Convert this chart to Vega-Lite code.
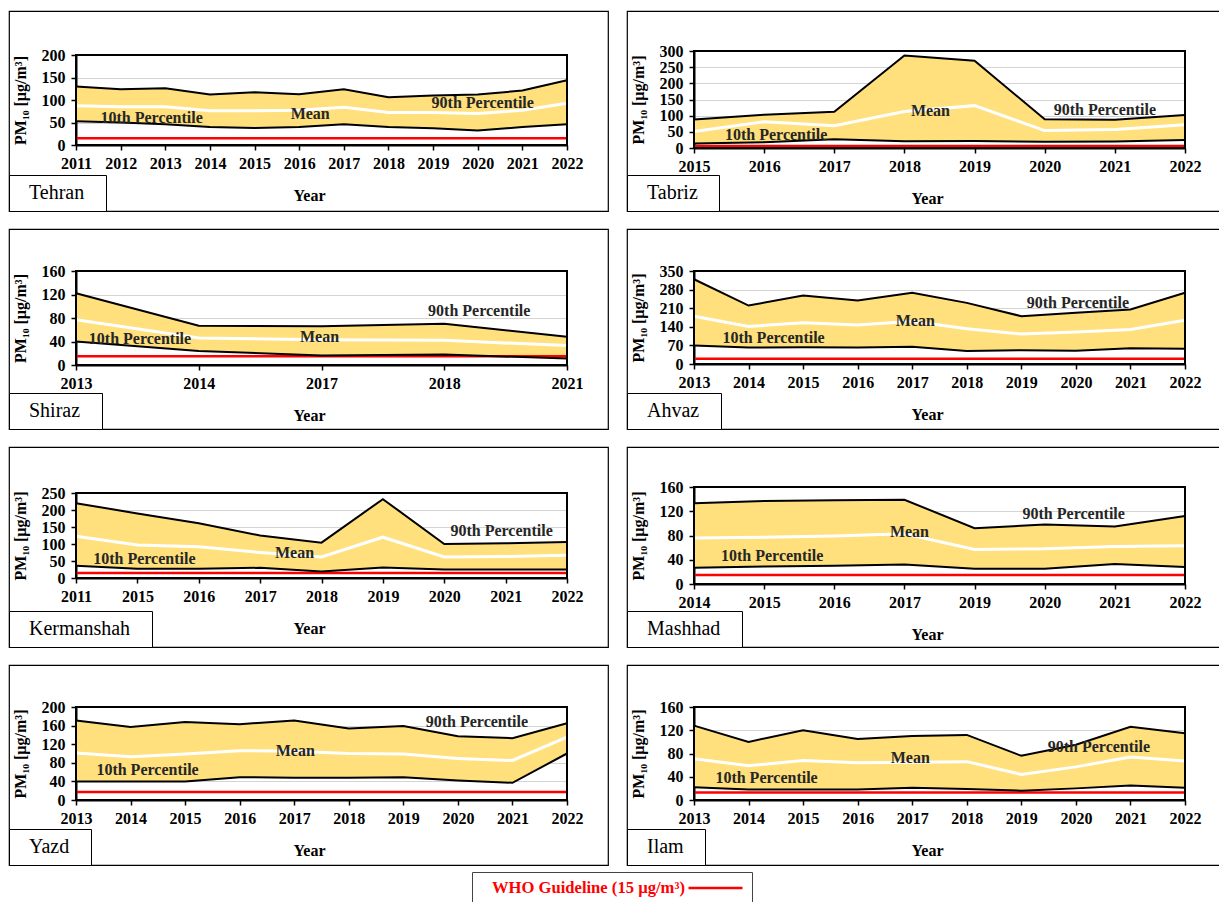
{
  "$schema": "https://vega.github.io/schema/vega-lite/v6.json",
  "padding": {"left": 7, "top": 10, "right": 0, "bottom": 0},
  "background": "#ffffff",
  "datasets": {
    "pm": [
      {"city":"Tehran","year":"2011","p10":53,"mean":87,"p90":130,"who":15},
      {"city":"Tehran","year":"2012","p10":50,"mean":85,"p90":124,"who":15},
      {"city":"Tehran","year":"2013","p10":46,"mean":85,"p90":126,"who":15},
      {"city":"Tehran","year":"2014","p10":40,"mean":76,"p90":112,"who":15},
      {"city":"Tehran","year":"2015","p10":38,"mean":76,"p90":117,"who":15},
      {"city":"Tehran","year":"2016","p10":40,"mean":77,"p90":113,"who":15},
      {"city":"Tehran","year":"2017","p10":46,"mean":84,"p90":124,"who":15},
      {"city":"Tehran","year":"2018","p10":40,"mean":72,"p90":106,"who":15},
      {"city":"Tehran","year":"2019","p10":37,"mean":72,"p90":110,"who":15},
      {"city":"Tehran","year":"2020","p10":32,"mean":70,"p90":112,"who":15},
      {"city":"Tehran","year":"2021","p10":40,"mean":77,"p90":121,"who":15},
      {"city":"Tehran","year":"2022","p10":46,"mean":93,"p90":144,"who":15},
      {"city":"Tabriz","year":"2015","p10":14,"mean":51,"p90":88,"who":6},
      {"city":"Tabriz","year":"2016","p10":18,"mean":81,"p90":103,"who":6},
      {"city":"Tabriz","year":"2017","p10":27,"mean":69,"p90":112,"who":6},
      {"city":"Tabriz","year":"2018","p10":21,"mean":113,"p90":286,"who":6},
      {"city":"Tabriz","year":"2019","p10":22,"mean":131,"p90":270,"who":6},
      {"city":"Tabriz","year":"2020","p10":19,"mean":54,"p90":89,"who":6},
      {"city":"Tabriz","year":"2021","p10":20,"mean":57,"p90":87,"who":6},
      {"city":"Tabriz","year":"2022","p10":25,"mean":72,"p90":102,"who":6},
      {"city":"Shiraz","year":"2013","p10":40,"mean":77,"p90":122,"who":15},
      {"city":"Shiraz","year":"2014","p10":24,"mean":46,"p90":67,"who":15},
      {"city":"Shiraz","year":"2017","p10":16,"mean":43,"p90":66,"who":15},
      {"city":"Shiraz","year":"2018","p10":18,"mean":42,"p90":70,"who":15},
      {"city":"Shiraz","year":"2021","p10":11,"mean":33,"p90":48,"who":15},
      {"city":"Ahvaz","year":"2013","p10":70,"mean":180,"p90":319,"who":20},
      {"city":"Ahvaz","year":"2014","p10":62,"mean":141,"p90":220,"who":20},
      {"city":"Ahvaz","year":"2015","p10":63,"mean":155,"p90":258,"who":20},
      {"city":"Ahvaz","year":"2016","p10":62,"mean":147,"p90":239,"who":20},
      {"city":"Ahvaz","year":"2017","p10":65,"mean":161,"p90":268,"who":20},
      {"city":"Ahvaz","year":"2018","p10":49,"mean":133,"p90":230,"who":20},
      {"city":"Ahvaz","year":"2019","p10":52,"mean":113,"p90":180,"who":20},
      {"city":"Ahvaz","year":"2020","p10":50,"mean":120,"p90":193,"who":20},
      {"city":"Ahvaz","year":"2021","p10":59,"mean":130,"p90":205,"who":20},
      {"city":"Ahvaz","year":"2022","p10":57,"mean":165,"p90":268,"who":20},
      {"city":"Kermanshah","year":"2011","p10":36,"mean":123,"p90":220,"who":15},
      {"city":"Kermanshah","year":"2015","p10":27,"mean":97,"p90":190,"who":15},
      {"city":"Kermanshah","year":"2016","p10":27,"mean":92,"p90":161,"who":15},
      {"city":"Kermanshah","year":"2017","p10":30,"mean":75,"p90":125,"who":15},
      {"city":"Kermanshah","year":"2018","p10":19,"mean":62,"p90":104,"who":15},
      {"city":"Kermanshah","year":"2019","p10":31,"mean":120,"p90":232,"who":15},
      {"city":"Kermanshah","year":"2020","p10":25,"mean":62,"p90":100,"who":15},
      {"city":"Kermanshah","year":"2021","p10":25,"mean":63,"p90":102,"who":15},
      {"city":"Kermanshah","year":"2022","p10":25,"mean":67,"p90":106,"who":15},
      {"city":"Mashhad","year":"2014","p10":27,"mean":76,"p90":133,"who":15},
      {"city":"Mashhad","year":"2015","p10":29,"mean":77,"p90":137,"who":15},
      {"city":"Mashhad","year":"2016","p10":30,"mean":79,"p90":138,"who":15},
      {"city":"Mashhad","year":"2017","p10":32,"mean":83,"p90":139,"who":15},
      {"city":"Mashhad","year":"2019","p10":25,"mean":57,"p90":92,"who":15},
      {"city":"Mashhad","year":"2020","p10":25,"mean":58,"p90":98,"who":15},
      {"city":"Mashhad","year":"2021","p10":33,"mean":62,"p90":95,"who":15},
      {"city":"Mashhad","year":"2022","p10":28,"mean":63,"p90":112,"who":15},
      {"city":"Yazd","year":"2013","p10":40,"mean":101,"p90":171,"who":17},
      {"city":"Yazd","year":"2014","p10":40,"mean":93,"p90":157,"who":17},
      {"city":"Yazd","year":"2015","p10":40,"mean":99,"p90":168,"who":17},
      {"city":"Yazd","year":"2016","p10":49,"mean":106,"p90":163,"who":17},
      {"city":"Yazd","year":"2017","p10":48,"mean":105,"p90":171,"who":17},
      {"city":"Yazd","year":"2018","p10":48,"mean":100,"p90":154,"who":17},
      {"city":"Yazd","year":"2019","p10":49,"mean":99,"p90":159,"who":17},
      {"city":"Yazd","year":"2020","p10":42,"mean":89,"p90":137,"who":17},
      {"city":"Yazd","year":"2021","p10":37,"mean":85,"p90":133,"who":17},
      {"city":"Yazd","year":"2022","p10":100,"mean":135,"p90":165,"who":17},
      {"city":"Ilam","year":"2013","p10":22,"mean":71,"p90":128,"who":13},
      {"city":"Ilam","year":"2014","p10":18,"mean":59,"p90":100,"who":13},
      {"city":"Ilam","year":"2015","p10":18,"mean":68,"p90":120,"who":13},
      {"city":"Ilam","year":"2016","p10":18,"mean":64,"p90":105,"who":13},
      {"city":"Ilam","year":"2017","p10":21,"mean":65,"p90":110,"who":13},
      {"city":"Ilam","year":"2018","p10":19,"mean":66,"p90":112,"who":13},
      {"city":"Ilam","year":"2019","p10":16,"mean":44,"p90":76,"who":13},
      {"city":"Ilam","year":"2020","p10":20,"mean":57,"p90":95,"who":13},
      {"city":"Ilam","year":"2021","p10":25,"mean":74,"p90":126,"who":13},
      {"city":"Ilam","year":"2022","p10":21,"mean":67,"p90":115,"who":13}
    ],
    "notes": [
      {"city":"Tehran","label":"10th Percentile","year":"2012","value":60},
      {"city":"Tehran","label":"Mean","year":"2016","value":70},
      {"city":"Tehran","label":"90th Percentile","year":"2020","value":93},
      {"city":"Tabriz","label":"10th Percentile","year":"2016","value":41},
      {"city":"Tabriz","label":"Mean","year":"2018","value":114},
      {"city":"Tabriz","label":"90th Percentile","year":"2021","value":116},
      {"city":"Shiraz","label":"10th Percentile","year":"2013","value":45},
      {"city":"Shiraz","label":"Mean","year":"2017","value":48},
      {"city":"Shiraz","label":"90th Percentile","year":"2018","value":92},
      {"city":"Ahvaz","label":"10th Percentile","year":"2014","value":98},
      {"city":"Ahvaz","label":"Mean","year":"2017","value":161},
      {"city":"Ahvaz","label":"90th Percentile","year":"2020","value":230},
      {"city":"Kermanshah","label":"10th Percentile","year":"2015","value":56},
      {"city":"Kermanshah","label":"Mean","year":"2018","value":75},
      {"city":"Kermanshah","label":"90th Percentile","year":"2021","value":137},
      {"city":"Mashhad","label":"10th Percentile","year":"2015","value":46},
      {"city":"Mashhad","label":"Mean","year":"2017","value":86},
      {"city":"Mashhad","label":"90th Percentile","year":"2020","value":115},
      {"city":"Yazd","label":"10th Percentile","year":"2014","value":64},
      {"city":"Yazd","label":"Mean","year":"2017","value":106},
      {"city":"Yazd","label":"90th Percentile","year":"2020","value":168},
      {"city":"Ilam","label":"10th Percentile","year":"2014","value":38},
      {"city":"Ilam","label":"Mean","year":"2017","value":72},
      {"city":"Ilam","label":"90th Percentile","year":"2020","value":91}
    ]
  },
  "columns": 2,
  "bounds": "flush",
  "spacing": {"row": 18, "column": 19},
  "resolve": {"scale": {"color": "independent", "stroke": "independent"}, "legend": {"color": "independent", "stroke": "independent"}},
  "concat": [
    {
      "width": 599, "height": 200,
      "data": {"name": "pm"},
      "transform": [{"filter": "datum.city === 'Tehran'"}],
      "encoding": {"x": {"field": "year", "type": "ordinal", "scale": {"type": "point", "padding": 0, "range": [67, 558]}, "axis": {"title": "Year", "offset": -66}}},
      "layer": [
        {"mark": {"type": "area"}, "encoding": {
          "y": {"field": "p90", "type": "quantitative", "scale": {"domain": [0, 200], "range": [134, 44], "nice": false}, "axis": {"title": "PM₁₀ [µg/m³]", "values": [0, 50, 100, 150, 200], "tickCount": 20, "offset": -67}},
          "y2": {"field": "p10"},
          "color": {"field": "city", "type": "nominal", "scale": {"range": ["#FFE07C"]}, "legend": {"title": null, "labelExpr": "datum.label + '\u2800'"}}}},
        {"mark": {"type": "line", "color": "#FF0000", "strokeWidth": 2.5}, "encoding": {"y": {"field": "who", "type": "quantitative"}}},
        {"mark": {"type": "line", "color": "#000000", "strokeWidth": 2}, "encoding": {"y": {"field": "p10", "type": "quantitative"}}},
        {"mark": {"type": "line", "color": "#000000", "strokeWidth": 2}, "encoding": {"y": {"field": "p90", "type": "quantitative"}}},
        {"mark": {"type": "line", "color": "#FFFFFF", "strokeWidth": 3}, "encoding": {"y": {"field": "mean", "type": "quantitative"}}},
        {"mark": {"type": "rect", "filled": false, "color": "#000000", "strokeWidth": 2}, "encoding": {"x": {"datum": "2011"}, "x2": {"datum": "2022"}, "y": {"datum": 0}, "y2": {"datum": 200}}},
        {"data": {"name": "notes"}, "transform": [{"filter": "datum.city === 'Tehran' && datum.label === '10th Percentile'"}], "mark": {"type": "text", "dx": 31, "fontSize": 16, "fontWeight": "bold", "font": "Liberation Serif", "color": "#262626", "baseline": "middle"}, "encoding": {"y": {"field": "value", "type": "quantitative"}, "text": {"field": "label"}}},
        {"data": {"name": "notes"}, "transform": [{"filter": "datum.city === 'Tehran' && datum.label === 'Mean'"}], "mark": {"type": "text", "dx": 11, "fontSize": 16, "fontWeight": "bold", "font": "Liberation Serif", "color": "#262626", "baseline": "middle"}, "encoding": {"y": {"field": "value", "type": "quantitative"}, "text": {"field": "label"}}},
        {"data": {"name": "notes"}, "transform": [{"filter": "datum.city === 'Tehran' && datum.label === '90th Percentile'"}], "mark": {"type": "text", "dx": 5, "fontSize": 16, "fontWeight": "bold", "font": "Liberation Serif", "color": "#262626", "baseline": "middle"}, "encoding": {"y": {"field": "value", "type": "quantitative"}, "text": {"field": "label"}}}
      ]
    },
    {
      "width": 594, "height": 200,
      "data": {"name": "pm"},
      "transform": [{"filter": "datum.city === 'Tabriz'"}],
      "encoding": {"x": {"field": "year", "type": "ordinal", "scale": {"type": "point", "padding": 0, "range": [67, 558]}, "axis": {"title": "Year", "offset": -63}}},
      "layer": [
        {"mark": {"type": "area"}, "encoding": {
          "y": {"field": "p90", "type": "quantitative", "scale": {"domain": [0, 300], "range": [137, 40], "nice": false}, "axis": {"title": "PM₁₀ [µg/m³]", "values": [0, 50, 100, 150, 200, 250, 300], "tickCount": 20, "offset": -67}},
          "y2": {"field": "p10"},
          "color": {"field": "city", "type": "nominal", "scale": {"range": ["#FFE07C"]}, "legend": {"title": null, "labelExpr": "datum.label + '\u2800'"}}}},
        {"mark": {"type": "line", "color": "#FF0000", "strokeWidth": 2.5}, "encoding": {"y": {"field": "who", "type": "quantitative"}}},
        {"mark": {"type": "line", "color": "#000000", "strokeWidth": 2}, "encoding": {"y": {"field": "p10", "type": "quantitative"}}},
        {"mark": {"type": "line", "color": "#000000", "strokeWidth": 2}, "encoding": {"y": {"field": "p90", "type": "quantitative"}}},
        {"mark": {"type": "line", "color": "#FFFFFF", "strokeWidth": 3}, "encoding": {"y": {"field": "mean", "type": "quantitative"}}},
        {"mark": {"type": "rect", "filled": false, "color": "#000000", "strokeWidth": 2}, "encoding": {"x": {"datum": "2015"}, "x2": {"datum": "2022"}, "y": {"datum": 0}, "y2": {"datum": 300}}},
        {"data": {"name": "notes"}, "transform": [{"filter": "datum.city === 'Tabriz' && datum.label === '10th Percentile'"}], "mark": {"type": "text", "dx": 12, "fontSize": 16, "fontWeight": "bold", "font": "Liberation Serif", "color": "#262626", "baseline": "middle"}, "encoding": {"y": {"field": "value", "type": "quantitative"}, "text": {"field": "label"}}},
        {"data": {"name": "notes"}, "transform": [{"filter": "datum.city === 'Tabriz' && datum.label === 'Mean'"}], "mark": {"type": "text", "dx": 26, "fontSize": 16, "fontWeight": "bold", "font": "Liberation Serif", "color": "#262626", "baseline": "middle"}, "encoding": {"y": {"field": "value", "type": "quantitative"}, "text": {"field": "label"}}},
        {"data": {"name": "notes"}, "transform": [{"filter": "datum.city === 'Tabriz' && datum.label === '90th Percentile'"}], "mark": {"type": "text", "dx": -10, "fontSize": 16, "fontWeight": "bold", "font": "Liberation Serif", "color": "#262626", "baseline": "middle"}, "encoding": {"y": {"field": "value", "type": "quantitative"}, "text": {"field": "label"}}}
      ]
    },
    {
      "width": 599, "height": 200,
      "data": {"name": "pm"},
      "transform": [{"filter": "datum.city === 'Shiraz'"}],
      "encoding": {"x": {"field": "year", "type": "ordinal", "scale": {"type": "point", "padding": 0, "range": [67, 558]}, "axis": {"title": "Year", "offset": -64}}},
      "layer": [
        {"mark": {"type": "area"}, "encoding": {
          "y": {"field": "p90", "type": "quantitative", "scale": {"domain": [0, 160], "range": [136, 42], "nice": false}, "axis": {"title": "PM₁₀ [µg/m³]", "values": [0, 40, 80, 120, 160], "tickCount": 20, "offset": -67}},
          "y2": {"field": "p10"},
          "color": {"field": "city", "type": "nominal", "scale": {"range": ["#FFE07C"]}, "legend": {"title": null, "labelExpr": "datum.label + '\u2800'"}}}},
        {"mark": {"type": "line", "color": "#FF0000", "strokeWidth": 2.5}, "encoding": {"y": {"field": "who", "type": "quantitative"}}},
        {"mark": {"type": "line", "color": "#000000", "strokeWidth": 2}, "encoding": {"y": {"field": "p10", "type": "quantitative"}}},
        {"mark": {"type": "line", "color": "#000000", "strokeWidth": 2}, "encoding": {"y": {"field": "p90", "type": "quantitative"}}},
        {"mark": {"type": "line", "color": "#FFFFFF", "strokeWidth": 3}, "encoding": {"y": {"field": "mean", "type": "quantitative"}}},
        {"mark": {"type": "rect", "filled": false, "color": "#000000", "strokeWidth": 2}, "encoding": {"x": {"datum": "2013"}, "x2": {"datum": "2021"}, "y": {"datum": 0}, "y2": {"datum": 160}}},
        {"data": {"name": "notes"}, "transform": [{"filter": "datum.city === 'Shiraz' && datum.label === '10th Percentile'"}], "mark": {"type": "text", "dx": 64, "fontSize": 16, "fontWeight": "bold", "font": "Liberation Serif", "color": "#262626", "baseline": "middle"}, "encoding": {"y": {"field": "value", "type": "quantitative"}, "text": {"field": "label"}}},
        {"data": {"name": "notes"}, "transform": [{"filter": "datum.city === 'Shiraz' && datum.label === 'Mean'"}], "mark": {"type": "text", "dx": -2, "fontSize": 16, "fontWeight": "bold", "font": "Liberation Serif", "color": "#262626", "baseline": "middle"}, "encoding": {"y": {"field": "value", "type": "quantitative"}, "text": {"field": "label"}}},
        {"data": {"name": "notes"}, "transform": [{"filter": "datum.city === 'Shiraz' && datum.label === '90th Percentile'"}], "mark": {"type": "text", "dx": 35, "fontSize": 16, "fontWeight": "bold", "font": "Liberation Serif", "color": "#262626", "baseline": "middle"}, "encoding": {"y": {"field": "value", "type": "quantitative"}, "text": {"field": "label"}}}
      ]
    },
    {
      "width": 594, "height": 200,
      "data": {"name": "pm"},
      "transform": [{"filter": "datum.city === 'Ahvaz'"}],
      "encoding": {"x": {"field": "year", "type": "ordinal", "scale": {"type": "point", "padding": 0, "range": [67, 558]}, "axis": {"title": "Year", "offset": -65}}},
      "layer": [
        {"mark": {"type": "area"}, "encoding": {
          "y": {"field": "p90", "type": "quantitative", "scale": {"domain": [0, 350], "range": [135, 42], "nice": false}, "axis": {"title": "PM₁₀ [µg/m³]", "values": [0, 70, 140, 210, 280, 350], "tickCount": 20, "offset": -67}},
          "y2": {"field": "p10"},
          "color": {"field": "city", "type": "nominal", "scale": {"range": ["#FFE07C"]}, "legend": {"title": null, "labelExpr": "datum.label + '\u2800'"}}}},
        {"mark": {"type": "line", "color": "#FF0000", "strokeWidth": 2.5}, "encoding": {"y": {"field": "who", "type": "quantitative"}}},
        {"mark": {"type": "line", "color": "#000000", "strokeWidth": 2}, "encoding": {"y": {"field": "p10", "type": "quantitative"}}},
        {"mark": {"type": "line", "color": "#000000", "strokeWidth": 2}, "encoding": {"y": {"field": "p90", "type": "quantitative"}}},
        {"mark": {"type": "line", "color": "#FFFFFF", "strokeWidth": 3}, "encoding": {"y": {"field": "mean", "type": "quantitative"}}},
        {"mark": {"type": "rect", "filled": false, "color": "#000000", "strokeWidth": 2}, "encoding": {"x": {"datum": "2013"}, "x2": {"datum": "2022"}, "y": {"datum": 0}, "y2": {"datum": 350}}},
        {"data": {"name": "notes"}, "transform": [{"filter": "datum.city === 'Ahvaz' && datum.label === '10th Percentile'"}], "mark": {"type": "text", "dx": 25, "fontSize": 16, "fontWeight": "bold", "font": "Liberation Serif", "color": "#262626", "baseline": "middle"}, "encoding": {"y": {"field": "value", "type": "quantitative"}, "text": {"field": "label"}}},
        {"data": {"name": "notes"}, "transform": [{"filter": "datum.city === 'Ahvaz' && datum.label === 'Mean'"}], "mark": {"type": "text", "dx": 3, "fontSize": 16, "fontWeight": "bold", "font": "Liberation Serif", "color": "#262626", "baseline": "middle"}, "encoding": {"y": {"field": "value", "type": "quantitative"}, "text": {"field": "label"}}},
        {"data": {"name": "notes"}, "transform": [{"filter": "datum.city === 'Ahvaz' && datum.label === '90th Percentile'"}], "mark": {"type": "text", "dx": 2, "fontSize": 16, "fontWeight": "bold", "font": "Liberation Serif", "color": "#262626", "baseline": "middle"}, "encoding": {"y": {"field": "value", "type": "quantitative"}, "text": {"field": "label"}}}
      ]
    },
    {
      "width": 599, "height": 200,
      "data": {"name": "pm"},
      "transform": [{"filter": "datum.city === 'Kermanshah'"}],
      "encoding": {"x": {"field": "year", "type": "ordinal", "scale": {"type": "point", "padding": 0, "range": [67, 558]}, "axis": {"title": "Year", "offset": -69}}},
      "layer": [
        {"mark": {"type": "area"}, "encoding": {
          "y": {"field": "p90", "type": "quantitative", "scale": {"domain": [0, 250], "range": [131, 46], "nice": false}, "axis": {"title": "PM₁₀ [µg/m³]", "values": [0, 50, 100, 150, 200, 250], "tickCount": 20, "offset": -67}},
          "y2": {"field": "p10"},
          "color": {"field": "city", "type": "nominal", "scale": {"range": ["#FFE07C"]}, "legend": {"title": null, "labelExpr": "datum.label + '\u2800'"}}}},
        {"mark": {"type": "line", "color": "#FF0000", "strokeWidth": 2.5}, "encoding": {"y": {"field": "who", "type": "quantitative"}}},
        {"mark": {"type": "line", "color": "#000000", "strokeWidth": 2}, "encoding": {"y": {"field": "p10", "type": "quantitative"}}},
        {"mark": {"type": "line", "color": "#000000", "strokeWidth": 2}, "encoding": {"y": {"field": "p90", "type": "quantitative"}}},
        {"mark": {"type": "line", "color": "#FFFFFF", "strokeWidth": 3}, "encoding": {"y": {"field": "mean", "type": "quantitative"}}},
        {"mark": {"type": "rect", "filled": false, "color": "#000000", "strokeWidth": 2}, "encoding": {"x": {"datum": "2011"}, "x2": {"datum": "2022"}, "y": {"datum": 0}, "y2": {"datum": 250}}},
        {"data": {"name": "notes"}, "transform": [{"filter": "datum.city === 'Kermanshah' && datum.label === '10th Percentile'"}], "mark": {"type": "text", "dx": 7, "fontSize": 16, "fontWeight": "bold", "font": "Liberation Serif", "color": "#262626", "baseline": "middle"}, "encoding": {"y": {"field": "value", "type": "quantitative"}, "text": {"field": "label"}}},
        {"data": {"name": "notes"}, "transform": [{"filter": "datum.city === 'Kermanshah' && datum.label === 'Mean'"}], "mark": {"type": "text", "dx": -27, "fontSize": 16, "fontWeight": "bold", "font": "Liberation Serif", "color": "#262626", "baseline": "middle"}, "encoding": {"y": {"field": "value", "type": "quantitative"}, "text": {"field": "label"}}},
        {"data": {"name": "notes"}, "transform": [{"filter": "datum.city === 'Kermanshah' && datum.label === '90th Percentile'"}], "mark": {"type": "text", "dx": -4, "fontSize": 16, "fontWeight": "bold", "font": "Liberation Serif", "color": "#262626", "baseline": "middle"}, "encoding": {"y": {"field": "value", "type": "quantitative"}, "text": {"field": "label"}}}
      ]
    },
    {
      "width": 594, "height": 200,
      "data": {"name": "pm"},
      "transform": [{"filter": "datum.city === 'Mashhad'"}],
      "encoding": {"x": {"field": "year", "type": "ordinal", "scale": {"type": "point", "padding": 0, "range": [67, 558]}, "axis": {"title": "Year", "offset": -63}}},
      "layer": [
        {"mark": {"type": "area"}, "encoding": {
          "y": {"field": "p90", "type": "quantitative", "scale": {"domain": [0, 160], "range": [137, 40], "nice": false}, "axis": {"title": "PM₁₀ [µg/m³]", "values": [0, 40, 80, 120, 160], "tickCount": 20, "offset": -67}},
          "y2": {"field": "p10"},
          "color": {"field": "city", "type": "nominal", "scale": {"range": ["#FFE07C"]}, "legend": {"title": null, "labelExpr": "datum.label + '\u2800'"}}}},
        {"mark": {"type": "line", "color": "#FF0000", "strokeWidth": 2.5}, "encoding": {"y": {"field": "who", "type": "quantitative"}}},
        {"mark": {"type": "line", "color": "#000000", "strokeWidth": 2}, "encoding": {"y": {"field": "p10", "type": "quantitative"}}},
        {"mark": {"type": "line", "color": "#000000", "strokeWidth": 2}, "encoding": {"y": {"field": "p90", "type": "quantitative"}}},
        {"mark": {"type": "line", "color": "#FFFFFF", "strokeWidth": 3}, "encoding": {"y": {"field": "mean", "type": "quantitative"}}},
        {"mark": {"type": "rect", "filled": false, "color": "#000000", "strokeWidth": 2}, "encoding": {"x": {"datum": "2014"}, "x2": {"datum": "2022"}, "y": {"datum": 0}, "y2": {"datum": 160}}},
        {"data": {"name": "notes"}, "transform": [{"filter": "datum.city === 'Mashhad' && datum.label === '10th Percentile'"}], "mark": {"type": "text", "dx": 8, "fontSize": 16, "fontWeight": "bold", "font": "Liberation Serif", "color": "#262626", "baseline": "middle"}, "encoding": {"y": {"field": "value", "type": "quantitative"}, "text": {"field": "label"}}},
        {"data": {"name": "notes"}, "transform": [{"filter": "datum.city === 'Mashhad' && datum.label === 'Mean'"}], "mark": {"type": "text", "dx": 5, "fontSize": 16, "fontWeight": "bold", "font": "Liberation Serif", "color": "#262626", "baseline": "middle"}, "encoding": {"y": {"field": "value", "type": "quantitative"}, "text": {"field": "label"}}},
        {"data": {"name": "notes"}, "transform": [{"filter": "datum.city === 'Mashhad' && datum.label === '90th Percentile'"}], "mark": {"type": "text", "dx": 29, "fontSize": 16, "fontWeight": "bold", "font": "Liberation Serif", "color": "#262626", "baseline": "middle"}, "encoding": {"y": {"field": "value", "type": "quantitative"}, "text": {"field": "label"}}}
      ]
    },
    {
      "width": 599, "height": 200,
      "data": {"name": "pm"},
      "transform": [{"filter": "datum.city === 'Yazd'"}],
      "encoding": {"x": {"field": "year", "type": "ordinal", "scale": {"type": "point", "padding": 0, "range": [67, 558]}, "axis": {"title": "Year", "offset": -65}}},
      "layer": [
        {"mark": {"type": "area"}, "encoding": {
          "y": {"field": "p90", "type": "quantitative", "scale": {"domain": [0, 200], "range": [135, 42], "nice": false}, "axis": {"title": "PM₁₀ [µg/m³]", "values": [0, 40, 80, 120, 160, 200], "tickCount": 20, "offset": -67}},
          "y2": {"field": "p10"},
          "color": {"field": "city", "type": "nominal", "scale": {"range": ["#FFE07C"]}, "legend": {"title": null, "labelExpr": "datum.label + '\u2800'"}}}},
        {"mark": {"type": "line", "strokeWidth": 2.5}, "encoding": {"y": {"field": "who", "type": "quantitative"},
          "stroke": {"datum": "WHO", "type": "nominal", "scale": {"range": ["#FF0000"]},
            "legend": {"orient": "none", "legendX": 463, "legendY": 207, "title": "\u2800WHO Guideline (15 µg/m³)", "titleOrient": "left", "titleColor": "#FF0000", "titleFont": "Liberation Serif", "titleFontSize": 16.6, "titleFontWeight": "bold", "titleLimit": 400, "titlePadding": 2, "titleBaseline": "middle", "labelExpr": "''", "labelOffset": 0, "labelFontSize": 16, "clipHeight": 16, "symbolType": "stroke", "symbolSize": 2916, "symbolStrokeWidth": 2.5, "symbolOpacity": 1, "symbolStrokeColor": "#FF0000", "strokeColor": "#444444", "padding": 8}}}},
        {"mark": {"type": "line", "color": "#000000", "strokeWidth": 2}, "encoding": {"y": {"field": "p10", "type": "quantitative"}}},
        {"mark": {"type": "line", "color": "#000000", "strokeWidth": 2}, "encoding": {"y": {"field": "p90", "type": "quantitative"}}},
        {"mark": {"type": "line", "color": "#FFFFFF", "strokeWidth": 3}, "encoding": {"y": {"field": "mean", "type": "quantitative"}}},
        {"mark": {"type": "rect", "filled": false, "color": "#000000", "strokeWidth": 2}, "encoding": {"x": {"datum": "2013"}, "x2": {"datum": "2022"}, "y": {"datum": 0}, "y2": {"datum": 200}}},
        {"data": {"name": "notes"}, "transform": [{"filter": "datum.city === 'Yazd' && datum.label === '10th Percentile'"}], "mark": {"type": "text", "dx": 17, "fontSize": 16, "fontWeight": "bold", "font": "Liberation Serif", "color": "#262626", "baseline": "middle"}, "encoding": {"y": {"field": "value", "type": "quantitative"}, "text": {"field": "label"}}},
        {"data": {"name": "notes"}, "transform": [{"filter": "datum.city === 'Yazd' && datum.label === 'Mean'"}], "mark": {"type": "text", "dx": 1, "fontSize": 16, "fontWeight": "bold", "font": "Liberation Serif", "color": "#262626", "baseline": "middle"}, "encoding": {"y": {"field": "value", "type": "quantitative"}, "text": {"field": "label"}}},
        {"data": {"name": "notes"}, "transform": [{"filter": "datum.city === 'Yazd' && datum.label === '90th Percentile'"}], "mark": {"type": "text", "dx": 19, "fontSize": 16, "fontWeight": "bold", "font": "Liberation Serif", "color": "#262626", "baseline": "middle"}, "encoding": {"y": {"field": "value", "type": "quantitative"}, "text": {"field": "label"}}}
      ]
    },
    {
      "width": 594, "height": 200,
      "data": {"name": "pm"},
      "transform": [{"filter": "datum.city === 'Ilam'"}],
      "encoding": {"x": {"field": "year", "type": "ordinal", "scale": {"type": "point", "padding": 0, "range": [67, 558]}, "axis": {"title": "Year", "offset": -65}}},
      "layer": [
        {"mark": {"type": "area"}, "encoding": {
          "y": {"field": "p90", "type": "quantitative", "scale": {"domain": [0, 160], "range": [135, 42], "nice": false}, "axis": {"title": "PM₁₀ [µg/m³]", "values": [0, 40, 80, 120, 160], "tickCount": 20, "offset": -67}},
          "y2": {"field": "p10"},
          "color": {"field": "city", "type": "nominal", "scale": {"range": ["#FFE07C"]}, "legend": {"title": null, "labelExpr": "datum.label + '\u2800'"}}}},
        {"mark": {"type": "line", "color": "#FF0000", "strokeWidth": 2.5}, "encoding": {"y": {"field": "who", "type": "quantitative"}}},
        {"mark": {"type": "line", "color": "#000000", "strokeWidth": 2}, "encoding": {"y": {"field": "p10", "type": "quantitative"}}},
        {"mark": {"type": "line", "color": "#000000", "strokeWidth": 2}, "encoding": {"y": {"field": "p90", "type": "quantitative"}}},
        {"mark": {"type": "line", "color": "#FFFFFF", "strokeWidth": 3}, "encoding": {"y": {"field": "mean", "type": "quantitative"}}},
        {"mark": {"type": "rect", "filled": false, "color": "#000000", "strokeWidth": 2}, "encoding": {"x": {"datum": "2013"}, "x2": {"datum": "2022"}, "y": {"datum": 0}, "y2": {"datum": 160}}},
        {"data": {"name": "notes"}, "transform": [{"filter": "datum.city === 'Ilam' && datum.label === '10th Percentile'"}], "mark": {"type": "text", "dx": 18, "fontSize": 16, "fontWeight": "bold", "font": "Liberation Serif", "color": "#262626", "baseline": "middle"}, "encoding": {"y": {"field": "value", "type": "quantitative"}, "text": {"field": "label"}}},
        {"data": {"name": "notes"}, "transform": [{"filter": "datum.city === 'Ilam' && datum.label === 'Mean'"}], "mark": {"type": "text", "dx": -2, "fontSize": 16, "fontWeight": "bold", "font": "Liberation Serif", "color": "#262626", "baseline": "middle"}, "encoding": {"y": {"field": "value", "type": "quantitative"}, "text": {"field": "label"}}},
        {"data": {"name": "notes"}, "transform": [{"filter": "datum.city === 'Ilam' && datum.label === '90th Percentile'"}], "mark": {"type": "text", "dx": 23, "fontSize": 16, "fontWeight": "bold", "font": "Liberation Serif", "color": "#262626", "baseline": "middle"}, "encoding": {"y": {"field": "value", "type": "quantitative"}, "text": {"field": "label"}}}
      ]
    }
  ],
  "config": {
    "font": "Liberation Serif",
    "view": {"stroke": "#000000", "strokeWidth": 1.2},
    "axis": {
      "labelFont": "Liberation Serif", "labelFontSize": 16, "labelFontWeight": "bold", "labelColor": "#000000",
      "titleFont": "Liberation Serif", "titleFontSize": 16, "titleFontWeight": "bold", "titleColor": "#000000",
      "domainColor": "#000000", "domainWidth": 2, "tickColor": "#000000", "tickSize": 5, "tickWidth": 1.5,
      "gridColor": "#d4d4d4", "gridWidth": 1, "labelOverlap": false
    },
    "axisX": {"labelAngle": 0, "grid": false, "labelPadding": 5, "titlePadding": 16, "titleX": 300},
    "axisY": {"labelPadding": 6, "titlePadding": 13},
    "legend": {
      "orient": "bottom-left", "offset": 0, "strokeColor": "#000000", "fillColor": "#ffffff", "padding": 6,
      "clipHeight": 24,
      "labelFont": "Liberation Serif", "labelFontSize": 20, "labelFontWeight": "normal", "labelColor": "#000000",
      "labelOffset": -6, "symbolSize": 0, "symbolOpacity": 0, "symbolStrokeWidth": 0, "labelLimit": 300
    }
  }
}
